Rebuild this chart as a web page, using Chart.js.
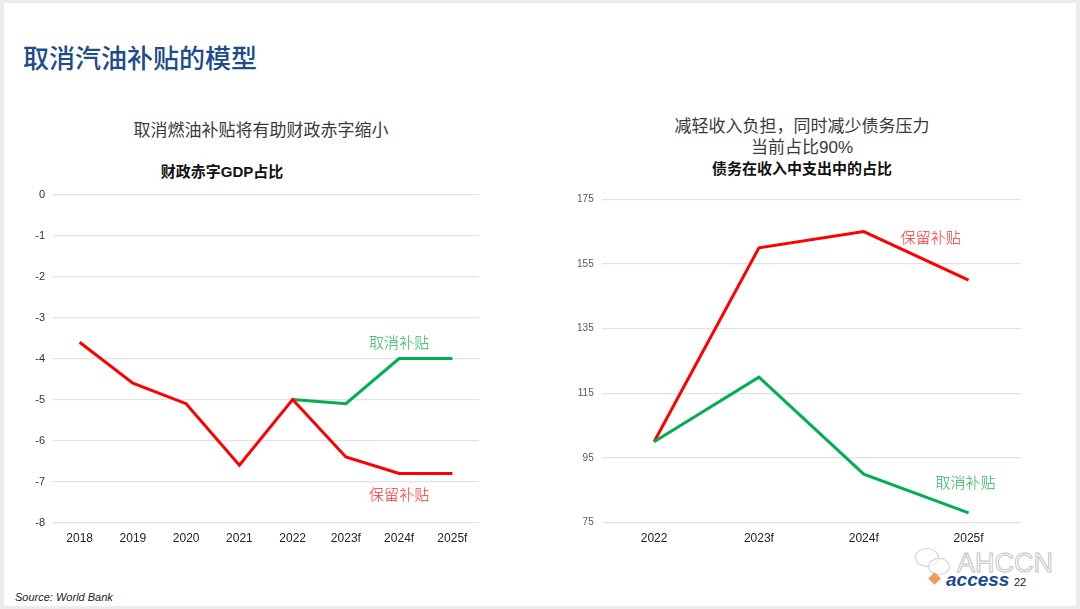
<!DOCTYPE html>
<html><head><meta charset="utf-8">
<script src="https://cdn.jsdelivr.net/npm/chart.js@4.4.1/dist/chart.umd.min.js"></script>
<style>
html,body{margin:0;padding:0;}
body{width:1080px;height:609px;background:#ececec;position:relative;overflow:hidden;font-family:"Noto Sans CJK SC","Noto Sans",sans-serif;}
#slide{position:absolute;left:4px;top:3px;width:1072px;height:603px;background:#fff;}
.t{position:absolute;white-space:nowrap;line-height:1;}
.c{transform:translate(-50%,-50%);}
.box{position:absolute;}
</style></head><body>
<div id="slide"></div>
<div class="t" style="left:23px;top:44px;font-size:26px;color:#1d4b8c;font-weight:500;">取消汽油补贴的模型</div>
<div class="t c" style="left:261px;top:128px;font-size:17px;color:#3a3a3a;font-weight:400;">取消燃油补贴将有助财政赤字缩小</div>
<div class="t c" style="left:222px;top:171px;font-size:15px;color:#111;font-weight:700;">财政赤字<span style="font-family:'Liberation Sans';">GDP</span>占比</div>
<div class="t c" style="left:802px;top:124px;font-size:17px;color:#3a3a3a;font-weight:400;">减轻收入负担，同时减少债务压力</div>
<div class="t c" style="left:802px;top:146px;font-size:17px;color:#3a3a3a;font-weight:400;">当前占比<span style="font-family:'Liberation Sans';">90%</span></div>
<div class="t c" style="left:802px;top:167px;font-size:15px;color:#111;font-weight:700;">债务在收入中支出中的占比</div>
<div class="t" style="left:15px;top:592px;font-size:11px;color:#222;font-style:italic;font-family:'Liberation Sans';">Source: World Bank</div>
<div class="t" style="left:957px;top:550px;font-size:27px;color:transparent;-webkit-text-stroke:1px #c4c4c4;font-family:'Liberation Sans';">AHCCN</div>
<div class="box" style="left:915px;top:548px;width:22px;height:17px;border:1px solid #cfcfcf;border-radius:50%;"></div>
<div class="box" style="left:928px;top:558px;width:20px;height:15px;border:1px solid #cfcfcf;border-radius:50%;background:rgba(255,255,255,0.6);"></div>
<div class="box" style="left:930px;top:574px;width:9px;height:9px;background:#f39a5a;transform:rotate(45deg);"></div>
<div class="t" style="left:946px;top:570px;font-size:19px;color:#1d4b8c;font-weight:700;font-style:italic;font-family:'Liberation Sans';">access</div>
<div class="t" style="left:1014px;top:577px;font-size:11px;color:#222;font-family:'Liberation Sans';">22</div>

<div class="box" style="left:10px;top:180px;width:480px;height:380px;"><canvas id="c1"></canvas></div>
<div class="box" style="left:550px;top:185px;width:490px;height:375px;"><canvas id="c2"></canvas></div>

<script>
// ---- Data ----
const leftCategories = ["2018","2019","2020","2021","2022","2023f","2024f","2025f"];
const leftKeepSubsidy = [-3.6,-4.6,-5.1,-6.6,-5.0,-6.4,-6.8,-6.8];
const leftRemoveSubsidy = [null,null,null,null,-5.0,-5.1,-4.0,-4.0];
const leftTicks = [0,-1,-2,-3,-4,-5,-6,-7,-8];

const rightCategories = ["2022","2023f","2024f","2025f"];
const rightKeepSubsidy = [100,160,165,150];
const rightRemoveSubsidy = [100,120,90,78];
const rightTicks = [175,155,135,115,95,75];

const labelKeep = "保留补贴";
const labelRemove = "取消补贴";

const RED = "#ff0000", GREEN = "#00b050";

const annotPlugin = {
  id: 'annot',
  afterDatasetsDraw(chart, args, opts) {
    const ctx = chart.ctx;
    const xs = chart.scales.x, ys = chart.scales.y;
    ctx.save();
    ctx.font = '300 15px "Noto Sans CJK SC"';
    ctx.textAlign = 'center';
    ctx.textBaseline = 'middle';
    (opts.items || []).forEach(it => {
      const x0 = xs.getPixelForValue(Math.floor(it.i));
      const x1 = xs.getPixelForValue(Math.ceil(it.i));
      const x = x0 + (x1 - x0) * (it.i - Math.floor(it.i));
      ctx.fillStyle = it.color;
      ctx.fillText(it.text, x, ys.getPixelForValue(it.v));
    });
    ctx.restore();
  }
};

function makeChart(id, cats, datasets, yMin, yMax, step, yW, yFont, yColor, pad, items) {
  return new Chart(document.getElementById(id), {
    type: 'line',
    data: { labels: cats, datasets },
    plugins: [annotPlugin],
    options: {
      responsive: true, maintainAspectRatio: false, animation: false,
      layout: { padding: pad },
      plugins: { legend: { display: false }, tooltip: { enabled: false }, annot: { items } },
      elements: { point: { radius: 0 }, line: { tension: 0, borderWidth: 3, borderCapStyle: 'butt', borderJoinStyle: 'miter' } },
      scales: {
        x: {
          offset: true,
          grid: { display: false, drawTicks: false },
          border: { display: false },
          ticks: { padding: 9, color: '#222', font: { family: 'Liberation Sans', size: 12 }, maxRotation: 0 }
        },
        y: {
          min: yMin, max: yMax,
          afterFit(s) { s.width = yW; },
          grid: { color: '#e2e2e2', lineWidth: 1.2, drawTicks: false },
          border: { display: false },
          ticks: { stepSize: step, padding: 8, color: yColor, font: { family: 'Liberation Sans', size: yFont } }
        }
      }
    }
  });
}

makeChart('c1', leftCategories, [
  { data: leftKeepSubsidy, borderColor: RED, backgroundColor: RED, fill: false, spanGaps: false },
  { data: leftRemoveSubsidy, borderColor: GREEN, backgroundColor: GREEN, fill: false, spanGaps: false }
], Math.min(...leftTicks), Math.max(...leftTicks), 1, 43, 11, '#333', {top: 13.5, right: 11, bottom: 5, left: 0},
[
  { text: labelRemove, color: '#22b35a', i: 6, v: -3.6 },
  { text: labelKeep, color: '#ff2a2a', i: 6, v: -7.3 }
]);

makeChart('c2', rightCategories, [
  { data: rightRemoveSubsidy, borderColor: GREEN, backgroundColor: GREEN, fill: false },
  { data: rightKeepSubsidy, borderColor: RED, backgroundColor: RED, fill: false }
], Math.min(...rightTicks), Math.max(...rightTicks), 20, 51.7, 10, '#595959', {top: 14.3, right: 19, bottom: 5, left: 0},
[
  { text: labelKeep, color: '#ff2a2a', i: 2.64, v: 163.4 },
  { text: labelRemove, color: '#22b35a', i: 2.97, v: 87.5 }
]);
</script>
</body></html>
